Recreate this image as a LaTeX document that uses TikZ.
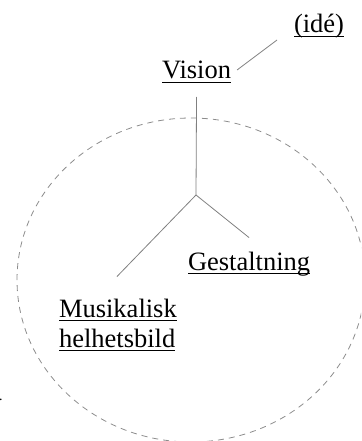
\documentclass[tikz,border=0pt]{standalone}
\usepackage{fontspec}
\setmainfont{Liberation Serif}
\begin{document}
\begin{tikzpicture}[x=1pt,y=-1pt,
  lbl/.style={inner sep=0pt, outer sep=0pt, anchor=base west, font=\fontsize{26.5}{30}\selectfont, text=black},
  uline/.style={draw=black, line width=1.1pt},
  conn/.style={draw=black!50, line width=0.8pt},
  ring/.style={draw=black!45, line width=0.8pt, dash pattern=on 6pt off 5pt}]
\useasboundingbox (0,0) rectangle (361,441);
\clip (0,0) rectangle (361,441);
\draw[ring] (191,280) ellipse [x radius=174, y radius=162];
\node[lbl] (idea) at (294,33) {(idé)};
\node[lbl] (vision) at (162,79) {Vision};
\node[lbl] (gest) at (188,270) {Gestaltning};
\node[lbl] (mus) at (59,317) {Musikalisk};
\node[lbl] (mus2) at (59,347) {helhetsbild};
\node[lbl, font=\fontsize{14}{16}\selectfont] (dot) at (-1,400) {.};
\foreach \n in {idea,vision,gest,mus,mus2}
  \draw[uline] ([yshift=-3.5pt]\n.base west) -- ([yshift=-3.5pt]\n.base east);
\coordinate (junc) at (196,195);
\draw[conn] ([yshift=-18pt]vision.base) -- (junc);
\draw[conn] (junc) -- ([xshift=-1pt,yshift=22pt]mus.north);
\draw[conn] (junc) -- ([yshift=14pt]gest.north);
\draw[conn] ([xshift=6pt,yshift=9pt]vision.base east) -- ([xshift=-17pt,yshift=-7pt]idea.base west);
\end{tikzpicture}
\end{document}
